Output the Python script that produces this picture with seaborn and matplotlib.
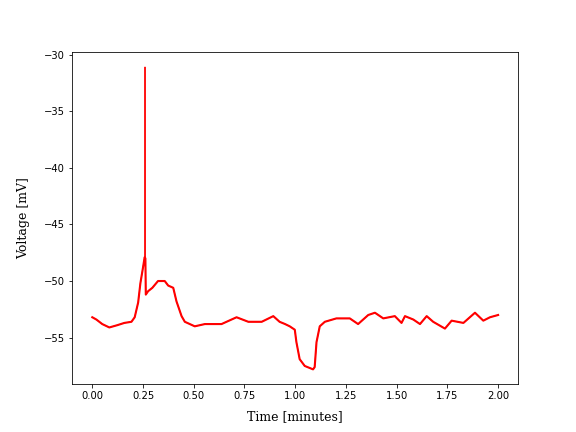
import matplotlib
matplotlib.use("Agg")
import matplotlib.pyplot as plt
import numpy as np
import seaborn as sns

# values
time_min = [
    0.000, 0.020, 0.049, 0.084, 0.123, 0.158, 0.193, 0.209, 0.226, 0.237,
    0.250, 0.258, 0.2598, 0.2617, 0.2637, 0.275, 0.296, 0.324, 0.357, 0.374,
    0.399, 0.415, 0.440, 0.456, 0.505, 0.555, 0.637, 0.711, 0.769, 0.835,
    0.892, 0.923, 0.950, 0.973, 0.998, 1.006, 1.022, 1.047, 1.088, 1.096,
    1.105, 1.121, 1.146, 1.203, 1.269, 1.310, 1.360, 1.393, 1.434, 1.491,
    1.524, 1.541, 1.582, 1.615, 1.648, 1.680, 1.738, 1.771, 1.829, 1.886,
    1.927, 1.960, 2.000,
]
voltage_mv = [
    -53.2, -53.4, -53.8, -54.1, -53.9, -53.7, -53.6, -53.2, -51.9, -50.2,
    -48.8, -47.9, -31.1, -48.0, -51.2, -50.9, -50.6, -50.0, -50.0, -50.4,
    -50.6, -51.8, -53.1, -53.6, -54.0, -53.8, -53.8, -53.2, -53.6, -53.6,
    -53.1, -53.6, -53.8, -54.0, -54.3, -55.4, -56.9, -57.5, -57.8, -57.6,
    -55.4, -54.0, -53.6, -53.3, -53.3, -53.8, -53.0, -52.8, -53.3, -53.1,
    -53.7, -53.1, -53.4, -53.8, -53.1, -53.6, -54.2, -53.5, -53.7, -52.8,
    -53.5, -53.2, -53.0,
]

t = np.array(time_min)
v = np.array(voltage_mv)
# the spike is a thin stroke, the rest of the trace a noisy ~3px band
not_spike = v < -40

fig, ax = plt.subplots(figsize=(8, 6), dpi=72)
sns.lineplot(x=t, y=v, color="red", linewidth=0.9,
             sort=False, estimator=None, ax=ax)
sns.lineplot(x=t[not_spike], y=v[not_spike], color="red", linewidth=2.1,
             sort=False, estimator=None, ax=ax)
ax.set_xlabel("Time [minutes]", family="serif", fontsize=12.5, labelpad=9)
ax.set_ylabel("Voltage [mV]", family="serif", fontsize=12.5, labelpad=14)

plt.savefig("out.png")
